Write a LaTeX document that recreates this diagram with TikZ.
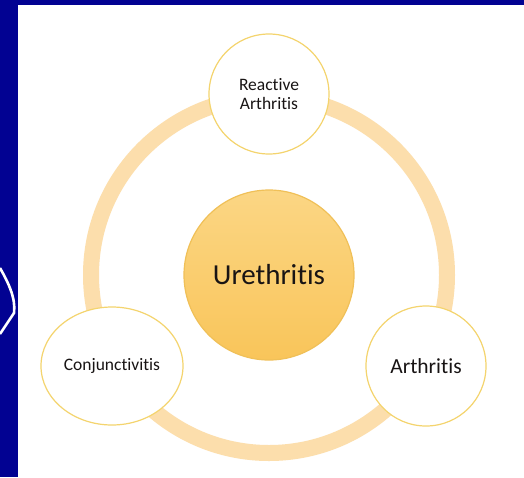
\documentclass[tikz,border=0pt]{standalone}
\usepackage{fontspec}
\usepackage{xcolor}
\usepackage{tikz}
\usetikzlibrary{shapes.geometric, positioning}
\newfontfamily\diagfont[Ligatures=NoCommon]{Carlito}
\definecolor{slideblue}{RGB}{2,2,146}
\definecolor{ringpeach}{RGB}{252,222,172}
\definecolor{edgegold}{RGB}{244,212,110}
\definecolor{coretop}{RGB}{251,214,132}
\definecolor{corebottom}{RGB}{249,197,90}
\definecolor{coreedge}{RGB}{240,192,88}
\definecolor{inkdark}{RGB}{24,20,20}

\begin{document}
\begin{tikzpicture}[
    x=1pt, y=-1pt,
    outer/.style={circle, draw=edgegold, line width=1.2pt, fill=white, minimum size=120pt, inner sep=0pt, align=center, text=inkdark, font=\diagfont\fontsize{17.5}{19}\selectfont},
    outeroval/.style={ellipse, draw=edgegold, line width=1.2pt, fill=white, minimum width=142pt, minimum height=118pt, inner sep=0pt, align=center, text=inkdark, font=\diagfont\fontsize{17.5}{19}\selectfont},
    core/.style={circle, draw=coreedge, line width=1.2pt, top color=coretop, bottom color=corebottom, minimum size=170pt, inner sep=0pt, text=inkdark, font=\diagfont\fontsize{29}{34}\selectfont},
    ring/.style={draw=ringpeach, line width=16pt}
]
    \useasboundingbox (0,0) rectangle (524,477);
    \fill[slideblue] (0,0) rectangle (524,477);
    \fill[white] (18,5) rectangle (524,477);
    \draw[white, line width=2.6pt] (0,268) .. controls (8,282) and (16,298) .. (14,313) -- (0,334);

    \coordinate (c) at (269,275);
    \draw[ring] (c) circle[radius=178pt];

    \node[core] (ure) at (c) {Urethritis};
    \node[outer] (rea) at (269,94) {Reactive\\Arthritis};
    \node[outeroval] (con) at (112,366) {Conjunctivitis};
    \node[outer, font=\diagfont\fontsize{21.5}{24}\selectfont] (art) at (426,366) {Arthritis};
\end{tikzpicture}
\end{document}
